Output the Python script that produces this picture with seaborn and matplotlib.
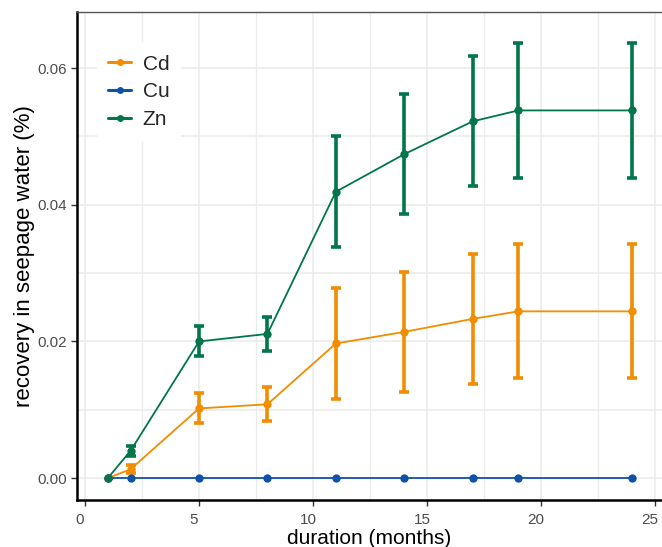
import numpy as np
import pandas as pd
import matplotlib
matplotlib.use("Agg")
import matplotlib.pyplot as plt
import matplotlib.transforms as mtransforms
import seaborn as sns

months = [1, 2, 5, 8, 11, 14, 17, 19, 24]
cd_mean = [0.0, 0.0013, 0.0102, 0.0108, 0.0197, 0.0214, 0.0233, 0.0244, 0.0244]
cd_err = [0.0, 0.0006, 0.0022, 0.0025, 0.0081, 0.0088, 0.0095, 0.0098, 0.0098]
cu_mean = [0.0, 0.0, 0.0, 0.0, 0.0, 0.0, 0.0, 0.0, 0.0]
cu_err = [0.0, 0.0, 0.0, 0.0, 0.0, 0.0, 0.0, 0.0, 0.0]
zn_mean = [0.0, 0.0040, 0.0200, 0.0211, 0.0419, 0.0474, 0.0522, 0.0538, 0.0538]
zn_err = [0.0, 0.0007, 0.0022, 0.0025, 0.0081, 0.0088, 0.0095, 0.0099, 0.0099]
metals = ["Cd", "Cu", "Zn"]
colors = {"Cd": "#F28C00", "Cu": "#0F52A8", "Zn": "#00764A"}
x_ticks = [0, 5, 10, 15, 20, 25]
y_ticks = [0.0, 0.02, 0.04, 0.06]
y_tick_labels = ["0.00", "0.02", "0.04", "0.06"]

rows = []
for m, mean, err in [("Cd", cd_mean, cd_err), ("Cu", cu_mean, cu_err), ("Zn", zn_mean, zn_err)]:
    for x, y, e in zip(months, mean, err):
        rows.append({"duration": x, "recovery": y, "err": e, "metal": m})
df = pd.DataFrame(rows)

sns.set_theme(style="white")
plt.rcParams['font.family'] = ['Liberation Sans', 'DejaVu Sans']

fig = plt.figure(figsize=(6.62, 5.47), dpi=100)
ax = fig.add_axes([77/662, 47/547, 585/662, 488/547])

ax.set_xlim(-0.35, 25.3)
ax.set_ylim(-0.0032, 0.0682)

# grid (major + minor)
for v in np.arange(0, 25.1, 2.5):
    ax.axvline(v, color="#EBEBEB", lw=1.1 if v % 5 == 0 else 0.9, zorder=0)
for v in np.arange(0, 0.0681, 0.01):
    ax.axhline(v, color="#EBEBEB", lw=1.1, zorder=0)

# error bars
for m in metals:
    sub = df[df.metal == m]
    sub = sub[sub.err > 0]
    ax.errorbar(sub.duration, sub.recovery, yerr=sub.err, fmt="none",
                ecolor=colors[m], elinewidth=2.6, capsize=3.6, capthick=2.6, zorder=2)

sns.lineplot(data=df, x="duration", y="recovery", hue="metal", palette=colors,
             hue_order=metals, marker="o", markersize=6, markeredgewidth=0,
             linewidth=1.3, ax=ax, zorder=3, legend=False)

handles = [plt.Line2D([], [], color=colors[m], lw=2.2, marker="o", markersize=5,
                      markeredgewidth=0) for m in metals]
leg = ax.legend(handles, metals, loc="upper left", bbox_to_anchor=(0.034, 0.936),
                frameon=True, fontsize=15, handlelength=1.1, handletextpad=0.55,
                labelspacing=0.42, borderpad=0.55, borderaxespad=0)
leg.get_frame().set_facecolor("white")
leg.get_frame().set_edgecolor("none")
leg.get_frame().set_alpha(1)

ax.set_xticks(x_ticks)
ax.set_yticks(y_ticks)
ax.set_yticklabels(y_tick_labels)
ax.tick_params(axis="both", which="major", labelsize=11, labelcolor="#4D4D4D",
               length=4, width=1, color="#333333", bottom=True, left=True, direction="out", pad=3)
ax.tick_params(axis="x", pad=5)

offset = mtransforms.ScaledTranslation(-5/100, 0, fig.dpi_scale_trans)
for lab in ax.get_xticklabels():
    lab.set_transform(lab.get_transform() + offset)

ax.set_xlabel("duration (months)", fontsize=15, color="black", labelpad=2)
ax.set_ylabel("recovery in seepage water (%)", fontsize=16, color="black", labelpad=2)

for s in ["left", "bottom"]:
    ax.spines[s].set_color("black")
    ax.spines[s].set_linewidth(1.8)
ax.spines["top"].set_color("#555555")
ax.spines["top"].set_linewidth(1.0)
ax.spines["right"].set_visible(False)

fig.savefig("out.png", dpi=100, facecolor="white")
